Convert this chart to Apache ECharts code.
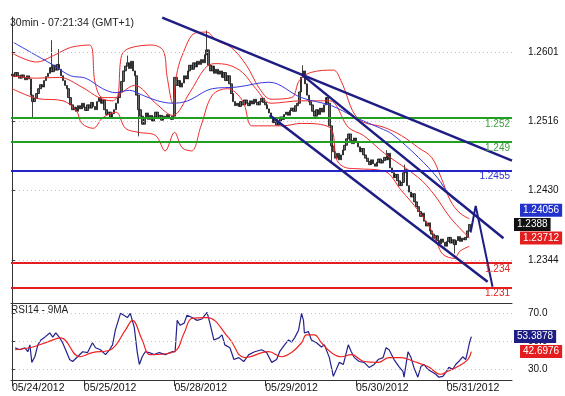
<!DOCTYPE html>
<html><head><meta charset="utf-8">
<script src="https://cdn.jsdelivr.net/npm/echarts@6/dist/echarts.min.js"></script>
<style>html,body{margin:0;padding:0;background:#fff}#c{width:565px;height:396px}</style>
</head><body><div id="c"></div>
<script>
// ---------- DATA ----------
const slotCount = 265;                 // 30-min slots shown on the x axis
const dayLabels = ['05/24/2012','05/25/2012','05/28/2012','05/29/2012','05/30/2012','05/31/2012'];
const dayStarts = [0, 38, 86, 134, 182, 230];
const priceTicks = [1.2601, 1.2516, 1.2430, 1.2344];
const rsiTicks = [30, 50, 70];
const firstOpen = 1.2572;
const closes = [
1.2574,1.2571,1.2576,1.2572,1.2569,1.2573,1.2570,1.2567,1.2572,1.2568,
1.2548,1.2540,1.2544,
1.2550,1.2556,1.2561,1.2558,1.2566,1.2571,1.2575,
1.2582,1.2577,1.2585,1.2579,1.2586,1.2580,
1.2572,1.2566,1.2560,1.2556,
1.2545,1.2536,1.2530,1.2533,
1.2528,1.2535,1.2531,1.2538,1.2533,1.2529,1.2536,1.2532,1.2539,1.2534,1.2530,
1.2540,1.2545,1.2538,1.2542,
1.2530,1.2524,1.2527,1.2521,1.2525,1.2530,
1.2538,1.2545,1.2552,
1.2565,1.2578,1.2584,
1.2588,1.2581,1.2590,1.2578,1.2572,
1.2548,1.2530,
1.2522,1.2512,1.2520,1.2526,1.2518,1.2523,1.2516,1.2521,1.2527,1.2519,1.2523,1.2517,1.2522,1.2519,1.2524,1.2520,1.2518,1.2522,
1.2570,1.2560,1.2566,1.2558,1.2563,1.2572,1.2568,
1.2578,1.2585,1.2580,1.2588,1.2583,1.2590,1.2586,1.2592,1.2588,
1.2598,1.2604,
1.2585,1.2578,1.2584,1.2575,1.2580,1.2574,1.2578,
1.2570,1.2576,1.2566,1.2572,1.2562,
1.2550,1.2540,1.2535,
1.2538,1.2534,1.2540,1.2536,1.2542,1.2538,1.2535,1.2541,1.2537,1.2543,1.2539,1.2536,1.2540,1.2544,1.2539,1.2536,1.2531,1.2526,
1.2520,1.2514,1.2518,1.2511,1.2516,
1.2521,1.2518,1.2524,1.2527,1.2523,1.2529,1.2532,1.2528,1.2535,1.2538,
1.2552,1.2570,1.2578,1.2562,
1.2548,1.2540,1.2536,
1.2528,1.2522,1.2530,1.2524,1.2532,1.2527,
1.2536,1.2545,1.2538,
1.2510,1.2485,
1.2478,1.2470,1.2476,1.2468,1.2474,1.2480,1.2486,
1.2494,1.2500,1.2492,1.2488,1.2495,
1.2490,1.2484,1.2478,1.2482,1.2474,1.2470,
1.2466,1.2462,1.2468,1.2463,1.2460,1.2465,1.2469,1.2464,1.2467,1.2471,1.2468,1.2476,
1.2458,1.2452,1.2446,1.2450,1.2442,1.2436,1.2440,
1.2452,1.2456,
1.2436,1.2428,1.2422,1.2426,1.2416,1.2410,
1.2404,1.2398,1.2402,1.2392,1.2386,1.2390,
1.2380,1.2376,1.2371,1.2374,
1.2368,1.2364,1.2370,1.2366,1.2361,1.2367,1.2372,1.2365,1.2369,1.2363,1.2368,1.2373,1.2367,1.2371,1.2369,
1.2372,1.2380,1.2388
];
// [bar index, low, high] for visible wicks (null = no wick on that side)
const wicks = [[11,1.2519,null],[21,null,1.2616],[25,null,1.2605],[61,null,1.2597],[67,1.2497,null],
  [103,null,1.2628],[154,null,1.2585],[169,1.2465,null],[198,null,1.2480],[208,null,1.2462],[234,1.2352,null]];
const bbUpper = [[0,1.2600],[13,1.2589],[22,1.2597],[31,1.2607],[41,1.2610],[44,1.2563],[48,1.2545],[55,1.2545],[58,1.2597],[62,1.2606],[74,1.2610],[80,1.2603],[82,1.2572],[85,1.2538],[87,1.2572],[90,1.2597],[97,1.2625],[103,1.2626],[108,1.2616],[116,1.2607],[124,1.2585],[131,1.2556],[137,1.2543],[148,1.2545],[152,1.2566],[158,1.2576],[170,1.2579],[174,1.2566],[183,1.2519],[197,1.2508],[206,1.2498],[215,1.2483],[222,1.2471],[227,1.2446],[232,1.2417],[237,1.2402],[242,1.2395]];
const bbMiddle = [[0,1.2572],[13,1.2569],[25,1.2570],[37,1.2558],[46,1.2545],[53,1.2541],[58,1.2551],[65,1.2560],[76,1.2538],[85,1.2523],[94,1.2551],[102,1.2581],[107,1.2587],[115,1.2585],[122,1.2576],[129,1.2556],[137,1.2538],[153,1.2541],[168,1.2541],[178,1.2508],[186,1.2498],[197,1.2476],[215,1.2446],[223,1.2426],[232,1.2396],[242,1.23712]];
const bbLower = [[0,1.2556],[13,1.2544],[27,1.2541],[34,1.2529],[37,1.2513],[43,1.2507],[48,1.2520],[55,1.2527],[60,1.2507],[67,1.2502],[76,1.2498],[81,1.2479],[86,1.2502],[90,1.2483],[95,1.2479],[100,1.2510],[106,1.2548],[114,1.2556],[122,1.2541],[127,1.2510],[135,1.2510],[143,1.2510],[153,1.2513],[168,1.2508],[172,1.2467],[177,1.2458],[182,1.2457],[197,1.2454],[206,1.2430],[215,1.2405],[222,1.2380],[225,1.2364],[228,1.2351],[234,1.2346],[237,1.2355],[242,1.2361]];
const movingAvg = [[1,1.2613],[13,1.2597],[22,1.2585],[31,1.2572],[39,1.2569],[48,1.2556],[55,1.2551],[62,1.2554],[69,1.2548],[77,1.2541],[85,1.2538],[93,1.2541],[106,1.2556],[119,1.2558],[136,1.2564],[153,1.2545],[169,1.2535],[182,1.2520],[195,1.2507],[201,1.2500],[215,1.2471],[225,1.2446],[232,1.2423],[242,1.24056]];
const levelValues = [1.252, 1.249, 1.2455, 1.234, 1.231];
const levelLabels = ['1.252', '1.249', '1.2455', '1.234', '1.231'];
const trendLines = [
  [[79.5,1.2644],[264.5,1.2467]],
  [[153,1.2574],[260,1.2371]],
  [[136.3,1.2523],[251.6,1.2317]]
];
const arrowPath = [[242.6,1.2378],[245.3,1.2411],[254.2,1.2311]];
const lastPrice = 1.2388, maLast = 1.24056, bbMidLast = 1.23712;
const rsi = [[1.6,45.4],[4.2,44],[6.8,45.4],[8.4,42.6],[9.5,47.5],[10.5,35],[12.1,39],[13.7,47.5],[15.3,51],[17.4,53],[20,56],[21.6,53],[23.2,56],[25.3,52.5],[26.8,49],[28.4,44],[30.5,37],[32.1,35.6],[34.7,39],[37.4,42.6],[40,42],[42.6,49],[44.2,45.4],[46.8,44],[49.5,40.5],[51.6,44],[53.2,47.5],[54.7,58],[57.4,70],[58.4,71],[61.1,67],[62.6,70],[64.7,60],[66.3,42],[67.4,33.5],[68.9,39],[70.5,42.6],[72.6,42],[75.3,40.5],[77.9,42],[81.1,40.5],[84.7,42.6],[86.3,42.6],[87.4,65],[88.9,61.5],[91.1,63],[92.6,68.6],[95.3,67],[97.9,65],[100.5,66],[103.2,70.7],[104.7,63],[106.8,51],[109.5,52.5],[111.1,54.6],[112.6,47.5],[115.3,45.4],[117.4,37],[120,38.4],[122.6,35.6],[125.3,40.5],[128.4,42.6],[132.1,44],[134.7,42],[137.4,35],[140,37],[141.6,42.6],[144.2,47.5],[146.3,51],[147.9,49.5],[149.5,52.5],[151.6,58],[153.2,70],[154.2,65],[154.7,56],[156.8,57],[158.4,51],[161.1,49],[163.7,46],[165.3,47.5],[167.9,38.4],[170,25],[171.6,30],[173.2,35],[175.3,33.5],[177.9,47.5],[179.5,42.6],[181.1,38.4],[183.7,35.6],[186.3,35],[188.9,31.4],[191.6,33.5],[193.7,37],[196.3,38.4],[197.9,45.4],[199.5,44],[202.1,37],[204.7,32],[206.8,28.6],[207.4,24.4],[209.5,42.6],[211.1,38.4],[212.6,31.4],[214.7,24.4],[216.3,32],[217.9,33.5],[220,30],[221.6,28.6],[224.2,26.5],[225.8,24.4],[227.9,25],[229.5,27.9],[231.1,31.4],[233.2,30],[234.7,33.5],[236.3,35.6],[238.4,39],[240,37],[241,42.6],[242,49],[243,53.3878]];
const rsiMa = [[1.6,44],[11.1,46],[18.9,49.6],[25.8,52.5],[35.8,39],[42.6,42],[52.1,44],[60,58],[63.7,65],[68.9,51],[73.2,40.5],[85.8,42.6],[91.1,56],[95.3,66.5],[103.2,67],[114.7,52.5],[123.2,38.4],[135.8,42.6],[142.6,39],[147.9,42],[153.2,49],[155.8,54.6],[160,54.6],[163.7,49],[168.9,42],[174.2,39],[179.5,40.5],[186.3,35.6],[193.7,35],[199.5,38.4],[205.8,38.4],[212.6,35.6],[220,32],[226.8,26.5],[230.5,28.6],[235.8,32],[241.1,37],[243,42.6976]];
const rsiLast = 53.3878, rsiMaLast = 42.6976;

// ---------- BUILD ----------
const FONT = 'Arial, "Liberation Sans", sans-serif';
const cats = [];
for (let i = 0; i < slotCount; i++) { const k = dayStarts.indexOf(i); cats.push(k >= 0 ? dayLabels[k] : 'b' + i); }
const isDay = (idx) => dayStarts.indexOf(idx) >= 0;
const ohlc = closes.map((c, i) => {
  const o = i === 0 ? firstOpen : closes[i - 1];
  return [o, c, Math.min(o, c), Math.max(o, c)];
});
wicks.forEach(([i, lo, hi]) => { if (lo !== null) ohlc[i][2] = lo; if (hi !== null) ohlc[i][3] = hi; });

const levelColors = ['#23a023', '#23a023', '#2424c8', '#e41e1e', '#e41e1e'];
const levelTextColors = ['#3c9c3c', '#3c9c3c', '#3030d0', '#e41e1e', '#e41e1e'];
const NAVY = '#1d1d84';
const CLEAR = 'rgba(0,0,0,0)';

function box(value, text, bg, dist) {
  return { yAxis: value, lineStyle: { color: CLEAR, width: 1 },
    label: { show: true, position: 'end', formatter: text, backgroundColor: bg, color: '#fff',
      fontSize: 10, fontFamily: FONT, padding: [2, 3, 1, 3], distance: dist } };
}

const option = {
  animation: false,
  backgroundColor: '#fff',
  title: [
    { text: '30min - 07:21:34 (GMT+1)', left: 10, top: 18, padding: 0,
      textStyle: { fontSize: 10.5, fontWeight: 'normal', color: '#222', fontFamily: FONT } },
    { text: 'RSI14 - 9MA', left: 11, top: 305, padding: 0,
      textStyle: { fontSize: 10, fontWeight: 'normal', color: '#222', fontFamily: FONT } }
  ],
  grid: [
    { left: 11, right: 53, top: 17, height: 286 },
    { left: 11, right: 53, top: 303, height: 77 }
  ],
  xAxis: [
    { type: 'category', gridIndex: 0, data: cats, axisLine: { show: true, lineStyle: { color: '#333' } },
      axisTick: { show: false }, axisLabel: { show: false }, splitLine: { show: false } },
    { type: 'value', gridIndex: 0, min: -0.5, max: slotCount - 0.5, show: false },
    { type: 'category', gridIndex: 1, data: cats,
      axisLine: { show: true, lineStyle: { color: '#333' } },
      axisTick: { show: true, alignWithLabel: true, interval: (i) => isDay(i), length: 6, lineStyle: { color: '#333' } },
      axisLabel: { show: true, interval: (i) => isDay(i), align: 'left', margin: 3, fontSize: 10.5,
        color: '#111', fontFamily: FONT },
      splitLine: { show: false } },
    { type: 'value', gridIndex: 1, min: -0.5, max: slotCount - 0.5, show: false }
  ],
  yAxis: [
    { type: 'value', gridIndex: 0, position: 'right', min: 1.22908, max: 1.26447,
      axisLine: { show: true, lineStyle: { color: '#333' } },
      axisTick: { show: true, length: 3, customValues: priceTicks, lineStyle: { color: '#333' } },
      axisLabel: { customValues: priceTicks, formatter: (v) => v.toFixed(4), margin: 16, fontSize: 10,
        color: '#111', fontFamily: FONT },
      splitLine: { show: false } },
    { type: 'value', gridIndex: 1, position: 'right', min: 22.4, max: 77.4,
      axisLine: { show: true, lineStyle: { color: '#333' } },
      axisTick: { show: true, length: 3, customValues: rsiTicks, lineStyle: { color: '#333' } },
      axisLabel: { customValues: rsiTicks, formatter: (v) => v.toFixed(1), margin: 16, fontSize: 10,
        color: '#111', fontFamily: FONT },
      splitLine: { show: false } }
  ],
  series: [
    { type: 'line', xAxisIndex: 1, yAxisIndex: 0, data: [], symbol: 'none', silent: true,
      markLine: { silent: true, symbol: ['none', 'none'], animation: false, precision: 6,
        data: priceTicks.map(v => ({ yAxis: v, lineStyle: { color: '#c4c4c4', type: [1, 3], width: 1 }, label: { show: false } })) } },
    { type: 'candlestick', xAxisIndex: 0, yAxisIndex: 0, data: ohlc, barWidth: 2,
      itemStyle: { color: '#666', color0: '#666', borderColor: '#111', borderColor0: '#111', borderWidth: 0.8 } },
    { type: 'line', xAxisIndex: 1, yAxisIndex: 0, data: bbUpper, symbol: 'none', smooth: 0.35,
      lineStyle: { color: '#ee2a2a', width: 1 } },
    { type: 'line', xAxisIndex: 1, yAxisIndex: 0, data: bbMiddle, symbol: 'none', smooth: 0.35,
      lineStyle: { color: '#ee2a2a', width: 1 } },
    { type: 'line', xAxisIndex: 1, yAxisIndex: 0, data: bbLower, symbol: 'none', smooth: 0.35,
      lineStyle: { color: '#ee2a2a', width: 1 } },
    { type: 'line', xAxisIndex: 1, yAxisIndex: 0, data: movingAvg, symbol: 'none', smooth: 0.35,
      lineStyle: { color: '#3a3ae0', width: 1 },
      markLine: { silent: true, symbol: ['none', 'none'], animation: false, precision: 6,
        data: [
          ...levelValues.map((v, k) => ({ yAxis: v, lineStyle: { color: levelColors[k], width: 2, type: 'solid' },
            label: { show: true, position: 'insideEndBottom', formatter: levelLabels[k], color: levelTextColors[k],
              fontSize: 10, fontFamily: FONT, distance: [2, 1] } })),
          ...trendLines.map(seg => [{ coord: seg[0], lineStyle: { color: NAVY, width: 2.5, type: 'solid' }, label: { show: false } }, { coord: seg[1] }]),
          box(maLast, maLast.toFixed(5), '#2233cc', 8),
          box(lastPrice, lastPrice.toFixed(4), '#111', 2),
          box(bbMidLast, bbMidLast.toFixed(5), '#e41e1e', 8)
        ] } },
    { type: 'line', xAxisIndex: 1, yAxisIndex: 0, data: [], symbol: 'none', silent: true,
      markLine: { silent: true, symbol: ['none', 'arrow'], symbolSize: [0, 11], animation: false, precision: 6,
        lineStyle: { color: NAVY, width: 2, type: 'solid' }, label: { show: false },
        data: [
          [{ coord: arrowPath[0], symbol: 'none' }, { coord: arrowPath[1], symbol: 'none' }],
          [{ coord: arrowPath[1] }, { coord: arrowPath[2] }]
        ] } },
    { type: 'line', xAxisIndex: 3, yAxisIndex: 1, data: rsi, symbol: 'none',
      lineStyle: { color: '#23238c', width: 1.2 },
      markLine: { silent: true, symbol: ['none', 'none'], animation: false, precision: 6,
        data: [
          ...rsiTicks.map(v => ({ yAxis: v, lineStyle: { color: '#c4c4c4', type: [1, 3], width: 1 }, label: { show: false } })),
          box(rsiLast, rsiLast.toFixed(4), '#1d1d84', 2),
          box(rsiMaLast, rsiMaLast.toFixed(4), '#e41e1e', 8)
        ] } },
    { type: 'line', xAxisIndex: 3, yAxisIndex: 1, data: rsiMa, symbol: 'none', smooth: 0.4,
      lineStyle: { color: '#ee2222', width: 1.2 } }
  ]
};
const chart = echarts.init(document.getElementById('c'), null, { renderer: 'canvas' });
chart.setOption(option);
</script>
</body></html>
